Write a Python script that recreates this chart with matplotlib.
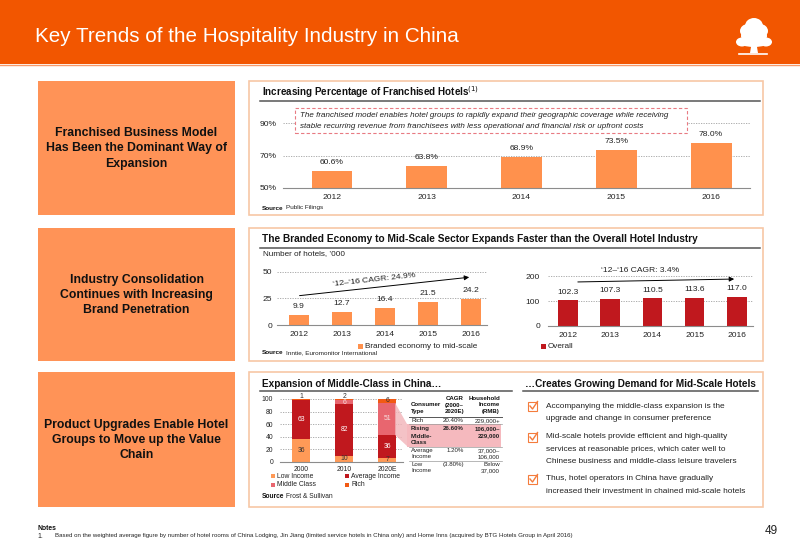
import matplotlib
matplotlib.use('Agg')
import matplotlib.pyplot as plt
from matplotlib.patches import Rectangle, Polygon, Ellipse
from matplotlib.lines import Line2D
from matplotlib import font_manager

# ---------------- data ----------------
years = ['2012', '2013', '2014', '2015', '2016']
franchised_pct = [60.6, 63.8, 68.9, 73.5, 78.0]
pct_ticks = [50, 70, 90]

branded_hotels = [9.9, 12.7, 16.4, 21.5, 24.2]
branded_ticks = [0, 25, 50]
branded_cagr = '\u201812\u2013\u201816 CAGR: 24.9%'

overall_hotels = [102.3, 107.3, 110.5, 113.6, 117.0]
overall_ticks = [0, 100, 200]
overall_cagr = '\u201812\u2013\u201816 CAGR: 3.4%'

class_years = ['2000', '2010', '2020E']
low_income = [36, 10, 7]
average_income = [63, 82, 36]
middle_class = [0, 6, 51]
rich = [1, 2, 6]
class_ticks = [0, 20, 40, 60, 80, 100]

table_header = [['', 'CAGR', 'Household'],
                ['Consumer', '(2000\u2013', 'Income'],
                ['Type', '2020E)', '(RMB)']]
table_rows = [
    [['Rich', '20.40%', '229,000+']],
    [['Rising', '26.60%', '106,000\u2013'], ['Middle-', '', '229,000'], ['Class', '', '']],
    [['Average', '1.20%', '37,000\u2013'], ['Income', '', '106,000']],
    [['Low', '(3.80%)', 'Below'], ['Income', '', '37,000']],
]

bullets = [
    ['Accompanying the middle-class expansion is the',
     'upgrade and change in consumer preference'],
    ['Mid-scale hotels provide efficient and high-quality',
     'services at reasonable prices, which cater well to',
     'Chinese business and middle-class leisure travelers'],
    ['Thus, hotel operators in China have gradually',
     'increased their investment in chained mid-scale hotels'],
]

left_titles = ['Franchised Business Model\nHas Been the Dominant Way of\nExpansion',
               'Industry Consolidation\nContinues with Increasing\nBrand Penetration',
               'Product Upgrades Enable Hotel\nGroups to Move up the Value\nChain']

# ---------------- styling ----------------
ORANGE_HDR = '#F25600'
ORANGE_BOX = '#FF9357'
ORANGE_BAR = '#FF914D'
BORDER = '#F7C7A6'
DARK_RED = '#C0181E'
MID_PINK = '#E8666F'
RICH_OR = '#F25A14'
LOW_OR = '#FF9A57'
GRID = '#A0A0A0'

names = {f.name for f in font_manager.fontManager.ttflist}
HAS_NARROW = 'Liberation Sans Narrow' in names
NARROW = ['Liberation Sans Narrow', 'Liberation Sans', 'DejaVu Sans'] if HAS_NARROW else ['Liberation Sans', 'DejaVu Sans']
plt.rcParams['font.family'] = ['Liberation Sans', 'DejaVu Sans']
plt.rcParams['axes.unicode_minus'] = False

W, H = 800, 554
fig = plt.figure(figsize=(8, 5.54), dpi=100)
fig.patch.set_facecolor('white')
renderer = fig.canvas.get_renderer()


def fx(x):
    return x / W


def fy(y):
    return 1 - y / H


def rect(x0, y0, x1, y1, **kw):
    fig.add_artist(Rectangle((fx(x0), fy(y1)), (x1 - x0) / W, (y1 - y0) / H,
                             transform=fig.transFigure, **kw))


def hline(x0, x1, y, **kw):
    fig.add_artist(Line2D([fx(x0), fx(x1)], [fy(y), fy(y)], transform=fig.transFigure, **kw))


def text(x, y, s, **kw):
    kw.setdefault('va', 'center')
    return fig.text(fx(x), fy(y), s, **kw)


def source(x, y, rest, size=4.6):
    t = text(x, y, 'Source', fontsize=size, fontweight='bold', color='#111')
    bb = t.get_window_extent(renderer=renderer)
    text(x + bb.width + 2, y, rest, fontsize=size, color='#222')


def axes_px(x0, y0, x1, y1):
    return fig.add_axes([fx(x0), fy(y1), (x1 - x0) / W, (y1 - y0) / H])


def style_axes(ax, ticks, labels, pad_px, fs):
    for s in ['top', 'right', 'left']:
        ax.spines[s].set_visible(False)
    ax.spines['bottom'].set_color('#8C8C8C')
    ax.spines['bottom'].set_linewidth(0.8)
    ax.set_yticks(ticks)
    ax.set_yticklabels(labels, fontsize=fs, color='#222')
    ax.tick_params(axis='both', length=0)
    ax.tick_params(axis='y', pad=pad_px / 1.389)
    for t in ticks[1:]:
        ax.axhline(t, color=GRID, lw=0.6, ls=(0, (1.5, 1.5)), zorder=0)
    ax.set_facecolor('none')


# ---------------- header ----------------
rect(0, 0, 800, 64, facecolor=ORANGE_HDR, edgecolor='none')
hline(0, 800, 65, color='#F79A6A', lw=1.0)
text(35, 37, 'Key Trends of the Hospitality Industry in China', color='white',
     fontsize=15.5 if HAS_NARROW else 14.85, family=NARROW, ha='left')
# tree logo
for (cx, cy, w, h) in [(754, 26, 18, 16), (748, 31, 16, 14), (760, 31, 16, 14),
                       (754, 36, 26, 16), (742, 42, 12, 9), (766, 42, 12, 9), (754, 42, 30, 10)]:
    fig.add_artist(Ellipse((fx(cx), fy(cy)), w / W, h / H, transform=fig.transFigure,
                           facecolor='white', edgecolor='none'))
fig.add_artist(Polygon([(fx(751.5), fy(44)), (fx(756.5), fy(44)), (fx(758), fy(53)), (fx(750), fy(53))],
                       closed=True, transform=fig.transFigure, facecolor='white', edgecolor='none'))
hline(739, 767, 54, color='white', lw=1.2)

# ---------------- left boxes and panel borders ----------------
box_y = [(81, 215), (228, 361), (372, 507)]
for (y0, y1), ttl in zip(box_y, left_titles):
    rect(38, y0, 235, y1, facecolor=ORANGE_BOX, edgecolor='none')
    text(136.5, (y0 + y1) / 2 + 0.5, ttl, ha='center', fontsize=8.8, fontweight='bold',
         color='#111', linespacing=1.36)
    rect(248.5, y0, 763, y1, facecolor='none', edgecolor=BORDER, lw=1.2)

# ---------------- panel 1 ----------------
text(262, 92, 'Increasing Percentage of Franchised Hotels$^{(1)}$', fontsize=7.15,
     fontweight='bold', color='#111')
hline(260, 760, 101, color='#555555', lw=1.1)

ax1 = axes_px(283, 105, 750, 188)
x1 = list(range(len(years)))
ax1.bar(x1, franchised_pct, width=0.43, color=ORANGE_BAR, zorder=2, bottom=0)
ax1.set_ylim(50, 101.1)
ax1.set_xlim(-0.517, 4.41)
style_axes(ax1, pct_ticks, [f'{t}%' for t in pct_ticks], 6, 6.1)
ax1.set_xticks(x1)
ax1.set_xticklabels(years, fontsize=6.1, color='#222')
ax1.tick_params(axis='x', pad=4.5)
for i, v in enumerate(franchised_pct):
    ax1.annotate(f'{v:.1f}%', (i, v), xytext=(0, 3.5), textcoords='offset points',
                 ha='center', va='bottom', fontsize=6.1, color='#222')

rect(295, 108, 687, 133, facecolor='white', edgecolor='#E87A82', lw=0.8, ls=(0, (3, 2)))
text(300, 115, 'The franchised model enables hotel groups to rapidly expand their geographic coverage while receiving',
     fontsize=5.8, style='italic', color='#222')
text(300, 127, 'stable recurring revenue from franchisees with less operational and financial risk or upfront costs',
     fontsize=5.8, style='italic', color='#222')
source(262, 208, 'Public Filings')

# ---------------- panel 2 ----------------
text(262, 239, 'The Branded Economy to Mid-Scale Sector Expands Faster than the Overall Hotel Industry',
     fontsize=7.3, fontweight='bold', color='#111')
hline(260, 760, 247.5, color='#555555', lw=1.1)
text(263, 254, 'Number of hotels, \u2019000', fontsize=5.9, color='#222')

ax2 = axes_px(277, 262, 487, 325)
ax2.bar(x1, branded_hotels, width=0.47, color=ORANGE_BAR, zorder=2)
ax2.set_ylim(0, 59.4)
ax2.set_xlim(-0.51, 4.37)
style_axes(ax2, branded_ticks, [str(t) for t in branded_ticks], 5, 6.1)
ax2.set_xticks(x1)
ax2.set_xticklabels(years, fontsize=6.1, color='#222')
ax2.tick_params(axis='x', pad=4.5)
for i, v in enumerate(branded_hotels):
    ax2.annotate(f'{v:.1f}', (i, v), xytext=(0, 3.5), textcoords='offset points',
                 ha='center', va='bottom', fontsize=6.1, color='#222')
ax2.annotate('', xy=(4.02, 45.3), xytext=(-0.05, 27.4),
             arrowprops=dict(arrowstyle='-|>', color='black', lw=0.7, mutation_scale=7))
ax2.text(1.75, 42.5, branded_cagr, ha='center', va='center', rotation=6.2,
         rotation_mode='anchor', fontsize=6.1, color='#222')

ax3 = axes_px(548, 262, 753, 326)
ax3.bar(x1, overall_hotels, width=0.46, color=DARK_RED, zorder=2)
ax3.set_ylim(0, 256)
ax3.set_xlim(-0.47, 4.38)
style_axes(ax3, overall_ticks, [str(t) for t in overall_ticks], 8, 6.1)
ax3.set_xticks(x1)
ax3.set_xticklabels(years, fontsize=6.1, color='#222')
ax3.tick_params(axis='x', pad=4.5)
for i, v in enumerate(overall_hotels):
    ax3.annotate(f'{v:.1f}', (i, v), xytext=(0, 3.5), textcoords='offset points',
                 ha='center', va='bottom', fontsize=6.1, color='#222')
ax3.annotate('', xy=(4.0, 188), xytext=(0.17, 176),
             arrowprops=dict(arrowstyle='-|>', color='black', lw=0.7, mutation_scale=7))
ax3.text(1.7, 224, overall_cagr, ha='center', va='center', fontsize=6.1, color='#222')

rect(358, 343.5, 363, 348.5, facecolor=ORANGE_BAR, edgecolor='none')
text(365, 346, 'Branded economy to mid-scale', fontsize=5.9, color='#222')
rect(541, 343.5, 546, 348.5, facecolor=DARK_RED, edgecolor='none')
text(548, 346, 'Overall', fontsize=5.9, color='#222')
source(262, 353, 'Inntie, Euromonitor International')

# ---------------- panel 3 ----------------
text(262, 384, 'Expansion of Middle-Class in China\u2026', fontsize=7.2, fontweight='bold', color='#111')
hline(260, 512, 390.5, color='#555555', lw=1.1)
text(525, 384, '\u2026Creates Growing Demand for Mid-Scale Hotels', fontsize=7.2,
     fontweight='bold', color='#111')
hline(523, 758, 390.5, color='#555555', lw=1.1)

ax4 = axes_px(280, 395, 403, 462)
xc = list(range(len(class_years)))
bw = 0.4
ax4.bar(xc, low_income, width=bw, color=LOW_OR, zorder=2)
bot = list(low_income)
ax4.bar(xc, average_income, width=bw, bottom=bot, color=DARK_RED, zorder=2)
bot = [a + b for a, b in zip(bot, average_income)]
ax4.bar(xc, middle_class, width=bw, bottom=bot, color=MID_PINK, zorder=2)
bot2 = [a + b for a, b in zip(bot, middle_class)]
ax4.bar(xc, rich, width=bw, bottom=bot2, color=RICH_OR, zorder=2)
ax4.set_ylim(0, 106.3)
ax4.set_xlim(-0.49, 2.37)
style_axes(ax4, class_ticks, [str(t) for t in class_ticks], 7, 4.9)
ax4.set_xticks(xc)
ax4.set_xticklabels(class_years, fontsize=4.9, color='#222')
ax4.tick_params(axis='x', pad=3)
FS = 4.9
for i in xc:
    lo, av, mi, ri = low_income[i], average_income[i], middle_class[i], rich[i]
    ax4.text(i, lo / 2, str(lo), ha='center', va='center', fontsize=FS, color='#333')
    ax4.text(i, lo + av / 2, str(av), ha='center', va='center', fontsize=FS, color='white')
    if mi > 0:
        ax4.text(i, lo + av + mi / 2 - (0.8 if mi < 10 else 0), str(mi), ha='center', va='center',
                 fontsize=FS, color='#F6E0E0')
    ytop = lo + av + mi + ri
    if ri >= 5:
        ax4.text(i, ytop - ri / 2, str(ri), ha='center', va='center', fontsize=FS, color='#333')
    else:
        ax4.text(i, ytop - 1.5, str(ri), ha='center', va='bottom', fontsize=FS, color='#333')

# connector to table
mid_top = 7 + 36 + 51
mid_bot = 7 + 36


def ypx4(v):
    return 462 - v * 0.63


fig.add_artist(Polygon([(fx(395), fy(ypx4(mid_top))), (fx(407), fy(424)), (fx(407), fy(446)),
                        (fx(395), fy(ypx4(mid_bot)))], closed=True, transform=fig.transFigure,
                       facecolor='#F2B3B8', edgecolor='none', alpha=0.8))

# legend
leg = [(273, 476, LOW_OR, 'Low Income'), (347, 476, DARK_RED, 'Average Income'),
       (273, 485, MID_PINK, 'Middle Class'), (347, 485, RICH_OR, 'Rich')]
for lx, ly, c, lab in leg:
    rect(lx - 2, ly - 2, lx + 2, ly + 2, facecolor=c, edgecolor='none')
    text(lx + 4, ly, lab, fontsize=4.9, color='#222')
source(262, 497, 'Frost & Sullivan', size=4.8)

# table
rect(407, 424, 501, 446.5, facecolor='#F5B9BE', edgecolor='none')
TF = 4.4
cols = [(411, 'left'), (464, 'right'), (500, 'right')]
hy = [398, 405, 412]
for row, y in zip(table_header, hy):
    for (cx, ha), s in zip(cols, row):
        text(cx, y, s, fontsize=TF, fontweight='bold', ha=ha, color='#111')
hline(409, 502, 417, color='#555555', lw=0.7)
row_y = [[421], [428.5, 436, 442.5], [450.5, 457], [464.5, 471]]
for grp, ys, bold in zip(table_rows, row_y, [False, True, False, False]):
    for row, y in zip(grp, ys):
        for (cx, ha), s in zip(cols, row):
            text(cx, y, s, fontsize=TF, ha=ha, color='#222', fontweight='bold' if bold else 'normal')
for ly in [424, 447, 460.5]:
    hline(409, 502, ly, color='#9A9A9A', lw=0.5)

# bullets
bullet_y = [[406, 418.5], [437, 449.5, 461.5], [479, 491.5]]
for lines, ys in zip(bullets, bullet_y):
    cy = ys[0]
    rect(528, cy - 4.5, 537, cy + 4.5, facecolor='white', edgecolor='#F47C3C', lw=0.8)
    fig.add_artist(Line2D([fx(530), fx(532.5), fx(537.5)], [fy(cy), fy(cy + 3), fy(cy - 4.5)],
                          transform=fig.transFigure, color='#F47C3C', lw=1.0))
    for s, y in zip(lines, ys):
        text(546, y, s, fontsize=5.95, color='#222')

# ---------------- notes ----------------
text(37, 528, 'Notes', fontsize=4.9, fontweight='bold', color='#111', family=NARROW)
text(37, 536, '1.', fontsize=4.9, color='#222', family=NARROW)
text(55, 536, 'Based on the weighted average figure by number of hotel rooms of China Lodging, Jin Jiang '
     '(limited service hotels in China only) and Home Inns (acquired by BTG Hotels Group in April 2016)',
     fontsize=4.9 if HAS_NARROW else 4.45, color='#222', family=NARROW)
text(778, 531, '49', fontsize=8.5, color='#222', ha='right', family=NARROW)

fig.savefig('out.png', dpi=100, facecolor='white')
